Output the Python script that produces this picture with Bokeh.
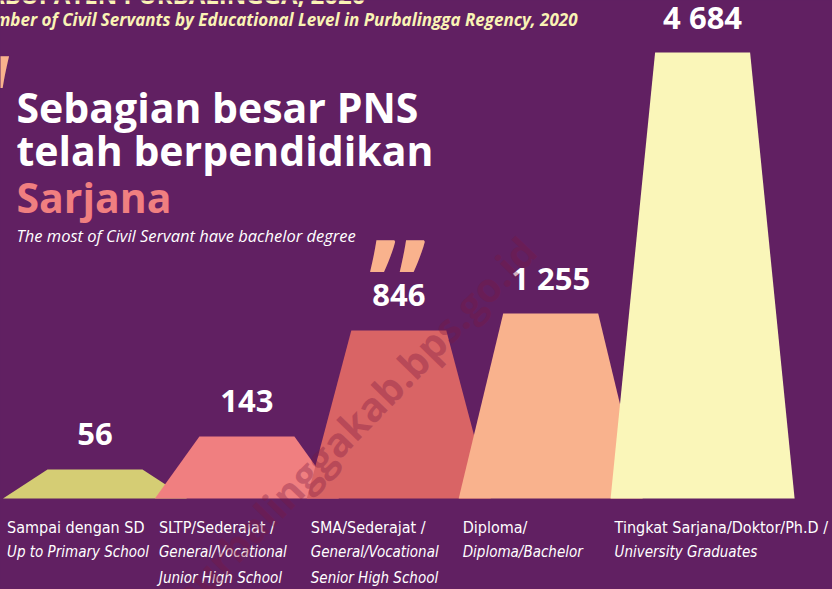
from bokeh.plotting import figure
from bokeh.models import Range1d
from bokeh.core.properties import value
from bokeh.embed import file_html
from bokeh.resources import INLINE

# ---- data read from the infographic ----
categories = ["Sampai dengan SD", "SLTP/Sederajat", "SMA/Sederajat", "Diploma", "Tingkat Sarjana/Doktor/Ph.D"]
counts = [56, 143, 846, 1255, 4684]
count_labels = ["56", "143", "846", "1 255", "4 684"]
# drawn heights of the decorative trapezoids (not proportional to counts in the original)
visual_height = [29, 62, 168, 185, 446]
label_line1 = ["Sampai dengan SD", "SLTP/Sederajat /", "SMA/Sederajat /", "Diploma/", "Tingkat Sarjana/Doktor/Ph.D /"]
label_line2 = ["Up to Primary School", "General/Vocational", "General/Vocational", "Diploma/Bachelor", "University Graduates"]
label_line3 = ["", "Junior High School", "Senior High School", "", ""]
bar_colors = ["#D5CD74", "#F07F80", "#D96465", "#F9B28D", "#FAF6B9"]

# ---- layout / style ----
W, H = 832, 589
BASE = 498                 # pixel row of the baseline
BG = "#612062"
CREAM = "#FAF3B5"
PEACH = "#F9B28D"
SALMON = "#F07F80"
X0, STEP = 94.5, 151.9
TOP_HW, BOT_HW = 47.5, 92
SANS = value("Open Sans")
COND = value("DejaVu Sans Condensed")


def ty(px, fs):
    """data y for a text whose baseline should sit at pixel row px"""
    return BASE - px + 0.45 * fs


p = figure(width=W, height=H, output_backend="svg", toolbar_location=None,
           x_range=Range1d(0, W), y_range=Range1d(-(H - BASE), BASE),
           min_border=0, background_fill_color=BG, border_fill_color=BG)
p.axis.visible = False
p.grid.visible = False
p.outline_line_color = None

centers = [X0 + STEP * i for i in range(len(categories))]

xs = [[c - BOT_HW, c - TOP_HW, c + TOP_HW, c + BOT_HW] for c in centers]
ys = [[0, h, h, 0] for h in visual_height]
p.patches(xs=xs, ys=ys, fill_color=bar_colors, line_color=None)

# value labels
p.text(x=centers, y=[h + 22 + 0.45 * 31 for h in visual_height], text=count_labels,
       text_font=SANS, text_font_style="bold", text_font_size="31px",
       text_color="white", text_align="center", text_baseline="alphabetic")

# category labels
lx = [c - 88 for c in centers]
p.text(x=lx, y=[ty(534, 16)] * 5, text=label_line1, text_font=COND, text_font_size="16px",
       text_color="white", text_align="left", text_baseline="alphabetic")
p.text(x=lx, y=[ty(558, 15)] * 5, text=label_line2, text_font=COND, text_font_size="15px",
       text_font_style="italic", text_color="white", text_align="left", text_baseline="alphabetic")
p.text(x=lx, y=[ty(584, 15)] * 5, text=label_line3, text_font=COND, text_font_size="15px",
       text_font_style="italic", text_color="white", text_align="left", text_baseline="alphabetic")

# watermark (anchored at its right end)
p.text(x=[528], y=[BASE - 243], text=["purbalinggakab.bps.go.id"], angle=0.80,
       text_font=SANS, text_font_style="bold", text_font_size="40px",
       text_color="#7A1840", text_alpha=0.35, text_align="right", text_baseline="middle")

# titles (cropped at the top-left in the original)
p.text(x=[365], y=[ty(5, 24)], text=["KABUPATEN PURBALINGGA, 2020"], text_font=SANS,
       text_font_style="bold", text_font_size="24px", text_color=CREAM,
       text_align="right", text_baseline="alphabetic")
p.text(x=[577], y=[ty(27, 17)], text=["Number of Civil Servants by Educational Level in Purbalingga Regency, 2020"],
       text_font=SANS, text_font_style="bold italic", text_font_size="17px", text_color=CREAM,
       text_align="right", text_baseline="alphabetic")

# headline
p.text(x=[16, 16], y=[ty(125, 41), ty(168, 41)], text=["Sebagian besar PNS", "telah berpendidikan"],
       text_font=SANS, text_font_style="bold", text_font_size="41px", text_color="white",
       text_align="left", text_baseline="alphabetic")
p.text(x=[16], y=[ty(215, 41)], text=["Sarjana"], text_font=SANS, text_font_style="bold",
       text_font_size="41px", text_color=SALMON, text_align="left", text_baseline="alphabetic")
p.text(x=[16], y=[ty(242, 16.5)], text=["The most of Civil Servant have bachelor degree"],
       text_font=SANS, text_font_style="italic", text_font_size="16.5px", text_color="white",
       text_align="left", text_baseline="alphabetic")

# decorative quote marks
p.text(x=[10], y=[ty(156, 130)], text=["\u201c"], text_font=SANS, text_font_style="bold",
       text_font_size="130px", text_color=PEACH, text_align="right", text_baseline="alphabetic")
p.text(x=[368], y=[ty(340, 130)], text=["\u201d"], text_font=SANS, text_font_style="bold",
       text_font_size="130px", text_color=PEACH, text_align="left", text_baseline="alphabetic")

html = file_html(p, INLINE)
html = html.replace("<head>", "<head><style>html,body{margin:0;padding:0;background:%s;overflow:hidden}</style>" % BG, 1)
open("out.html", "w").write(html)
